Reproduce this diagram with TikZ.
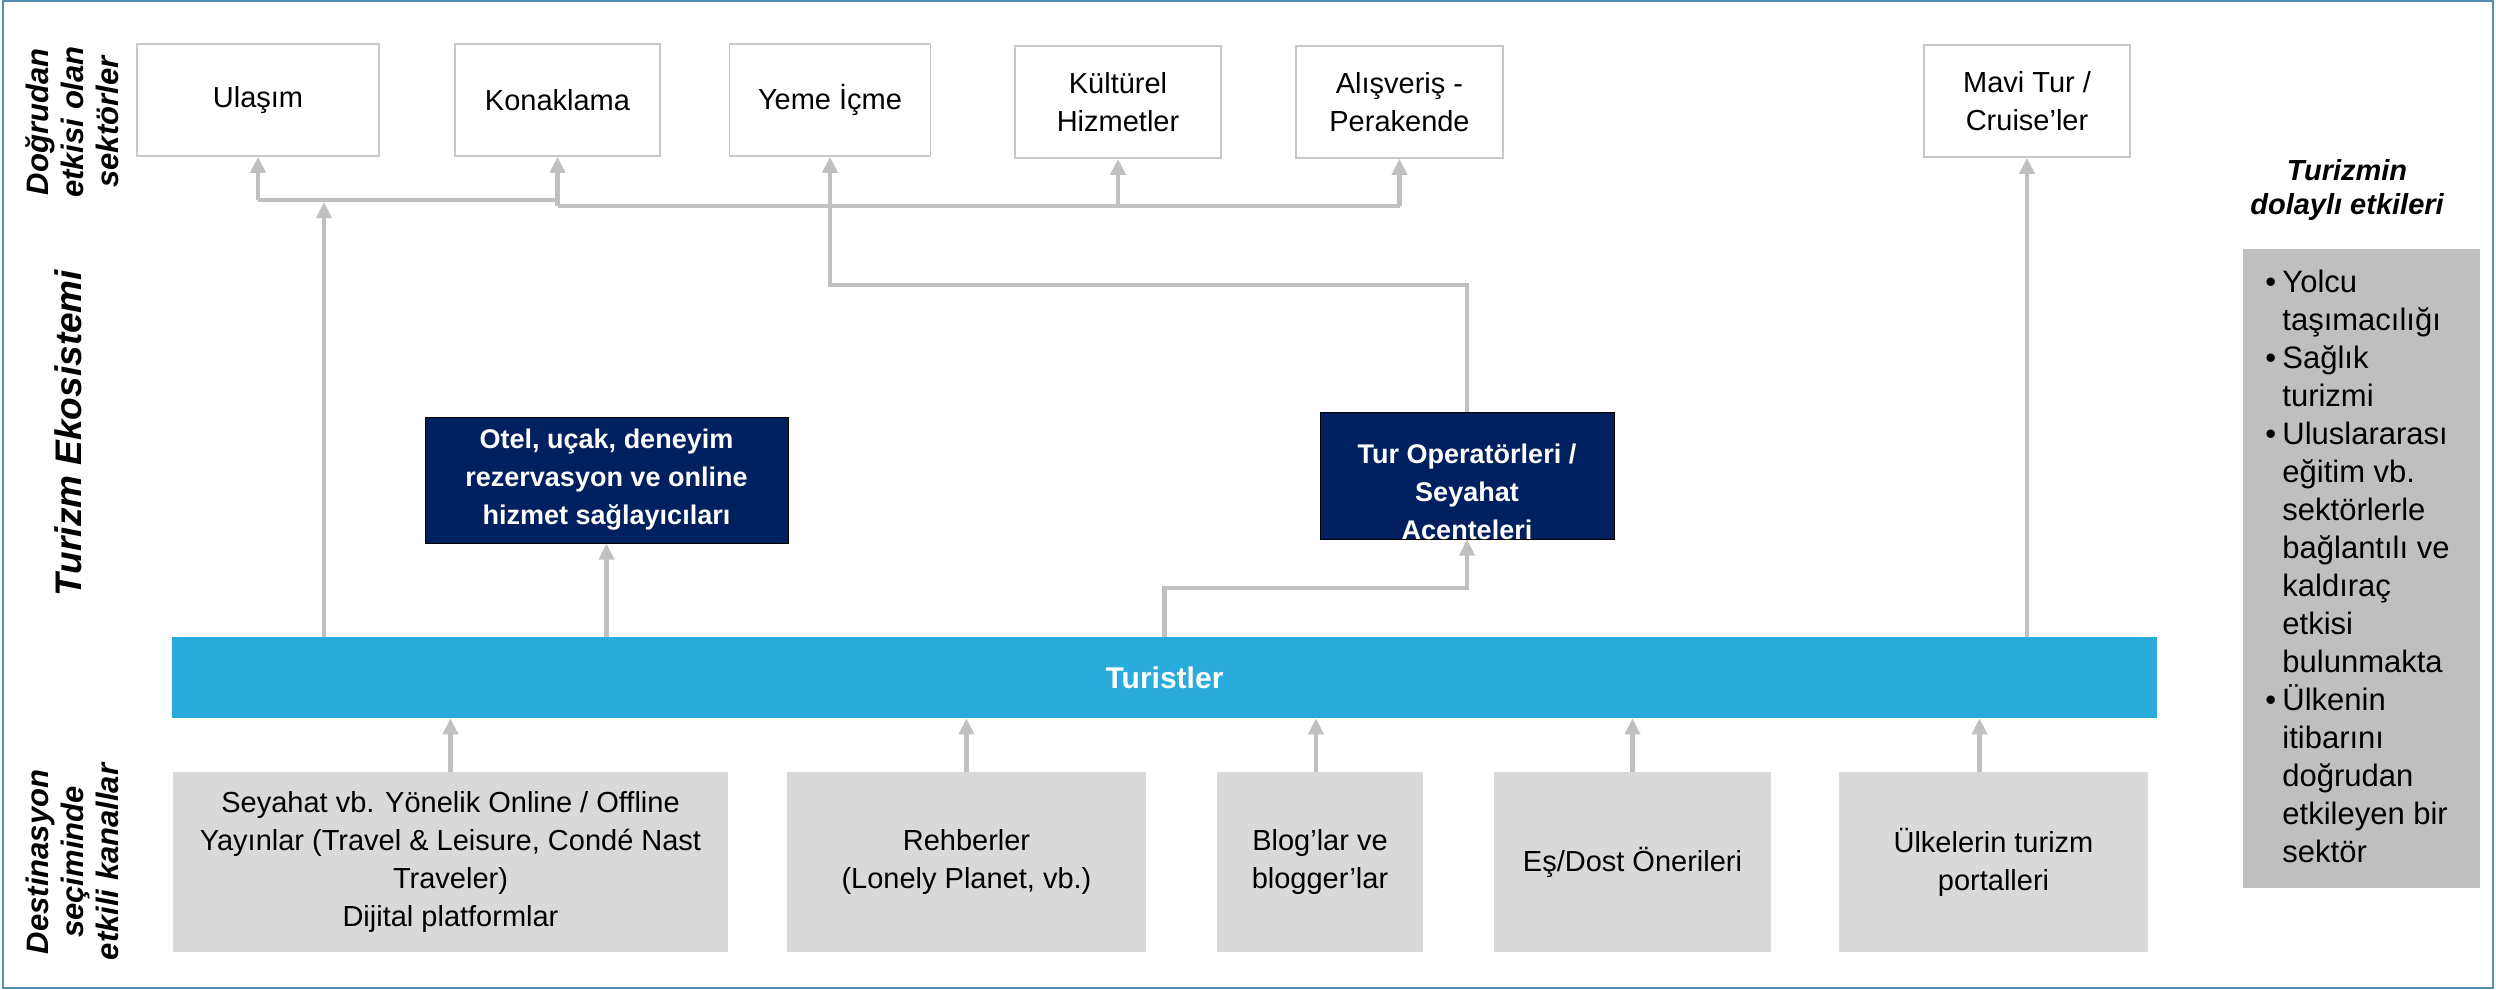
\documentclass[tikz,border=0pt]{standalone}
\usepackage{fontspec}
\setmainfont{Liberation Sans}
\usetikzlibrary{arrows.meta}
\definecolor{linegray}{RGB}{192,192,192}
\definecolor{navyblue}{RGB}{0,32,96}
\definecolor{skyblue}{RGB}{41,171,219}
\definecolor{boxgray}{RGB}{217,217,217}
\definecolor{sidegray}{RGB}{191,191,191}
\definecolor{framecol}{RGB}{84,141,173}
\definecolor{boxedge}{RGB}{200,200,200}
\tikzset{
  topbox/.style={draw=boxedge, line width=0.8pt, fill=white, minimum height=56pt, inner sep=0pt, align=center, font=\fontsize{14.5}{19}\selectfont},
  navybox/.style={draw=black, line width=0.5pt, fill=navyblue, text=white, inner sep=0pt, align=center, font=\bfseries\fontsize{13.5}{19}\selectfont},
  chanbox/.style={fill=boxgray, minimum height=90pt, inner sep=0pt, align=center, font=\fontsize{14.5}{19}\selectfont},
  lab/.style={rotate=90, align=center, inner sep=0pt, font=\bfseries\itshape\fontsize{15.5}{17.5}\selectfont},
  conn/.style={draw=linegray, line width=2.4pt},
  arr/.style={conn, -{Triangle[width=7.5pt,length=8pt]}},
}
\begin{document}
\begin{tikzpicture}[x=0.5pt,y=-0.5pt]
\useasboundingbox (0,0) rectangle (2496,990);
\draw[framecol, line width=1pt] (3,1) rectangle (2493,988);

% left labels
\node[lab] (l1) at (72,122) {Doğrudan\\etkisi olan\\sektörler};
\node[rotate=90, inner sep=0pt, font=\bfseries\itshape\fontsize{18.5}{22}\selectfont] (l2) at (68,433) {Turizm Ekosistemi};
\node[lab] (l3) at (72,862) {Destinasyon\\seçiminde\\etkili kanallar};

% top sectors
\node[topbox, minimum width=121pt] (ulasim) at (258,100) {Ulaşım};
\node[topbox, minimum width=102.5pt] (konak) at (557.5,100) {Konaklama};
\node[topbox, minimum width=100.5pt] (yeme) at (830,100) {Yeme İçme};
\node[topbox, minimum width=103pt] (kultur) at (1118,102) {Kültürel\\Hizmetler};
\node[topbox, minimum width=103.5pt] (alis) at (1399.5,102) {Alışveriş -\\Perakende};
\node[topbox, minimum width=103pt] (mavi) at (2027,101) {Mavi Tur /\\Cruise’ler};

% navy boxes
\node[navybox, minimum width=181.5pt, minimum height=63pt] (otel) at (606.5,480) {Otel, uçak, deneyim\\rezervasyon ve online\\hizmet sağlayıcıları};
\node[navybox, minimum width=147pt, minimum height=63.5pt] (turop) at (1467,475.5) {\raisebox{-13pt}[0pt][0pt]{\begin{tabular}{@{}c@{}}Tur Operatörleri /\\Seyahat\\Acenteleri\end{tabular}}};

% tourists bar
\node[fill=skyblue, minimum width=992.5pt, minimum height=40.5pt, inner sep=0pt, text=white, font=\bfseries\fontsize{15}{18}\selectfont] (tur) at (1164.5,677.5) {Turistler};

% channels
\node[chanbox, minimum width=277.5pt] (b1) at (450.5,862) {Seyahat vb. Yönelik Online / Offline\\Yayınlar (Travel \& Leisure, Condé Nast\\Traveler)\\Dijital platformlar};
\node[chanbox, minimum width=179.5pt] (b2) at (966.5,862) {Rehberler\\(Lonely Planet, vb.)};
\node[chanbox, minimum width=103pt] (b3) at (1320,862) {Blog’lar ve\\blogger’lar};
\node[chanbox, minimum width=138.5pt] (b4) at (1632.5,862) {Eş/Dost Önerileri};
\node[chanbox, minimum width=154.5pt] (b5) at (1993.5,862) {Ülkelerin turizm\\portalleri};

% indirect effects
\node[font=\bfseries\itshape\fontsize{14.5}{17}\selectfont, align=center, inner sep=0pt] (ttl) at (2347,190) {Turizmin\\dolaylı etkileri};
\node[fill=sidegray, minimum width=118.5pt, minimum height=319.5pt, inner sep=0pt] (ind) at (2361.5,568.5) {};
\node[anchor=north west, inner sep=0pt, align=left, font=\fontsize{15.5}{19}\selectfont] (indtxt) at (2282,270)
 {\llap{\makebox[8.5pt][l]{•}}Yolcu\\
  taşımacılığı\\
  \llap{\makebox[8.5pt][l]{•}}Sağlık\\
  turizmi\\
  \llap{\makebox[8.5pt][l]{•}}Uluslararası\\
  eğitim vb.\\
  sektörlerle\\
  bağlantılı ve\\
  kaldıraç\\
  etkisi\\
  bulunmakta\\
  \llap{\makebox[8.5pt][l]{•}}Ülkenin\\
  itibarını\\
  doğrudan\\
  etkileyen bir\\
  sektör};

% bus coordinates
\coordinate (busA) at (0,200);
\coordinate (busB) at (0,206);
\coordinate (busC) at (0,285);
\coordinate (busD) at (0,588);
\coordinate (tx1) at (324,0);

% top connectors
\draw[conn] (ulasim.south |- busA) -- (konak.south |- busA);
\draw[conn] (konak.south |- busB) -- (alis.south |- busB);
\draw[arr] (ulasim.south |- busA) -- (ulasim.south);
\draw[arr] (konak.south |- busB) -- (konak.south);
\draw[arr] (kultur.south |- busB) -- (kultur.south);
\draw[arr] (alis.south |- busB) -- (alis.south);
\draw[arr] (turop.north) |- (yeme.south |- busC) -- (yeme.south);
\draw[arr, shorten >=1pt] (tur.north -| tx1) -- (tx1 |- busA);

% from tourists
\draw[arr] (tur.north -| otel.south) -- (otel.south);
\draw[arr] (tur.north) |- (turop.south |- busD) -- (turop.south);
\draw[arr] (tur.north -| mavi.south) -- (mavi.south);

% channels to tourists
\draw[arr] (b1.north) -- (b1.north |- tur.south);
\draw[arr] (b2.north) -- (b2.north |- tur.south);
\draw[arr] ([xshift=-2pt]b3.north) -- ([xshift=-2pt]b3.north |- tur.south);
\draw[arr] (b4.north) -- (b4.north |- tur.south);
\draw[arr] ([xshift=-7pt]b5.north) -- ([xshift=-7pt]b5.north |- tur.south);
\end{tikzpicture}
\end{document}
